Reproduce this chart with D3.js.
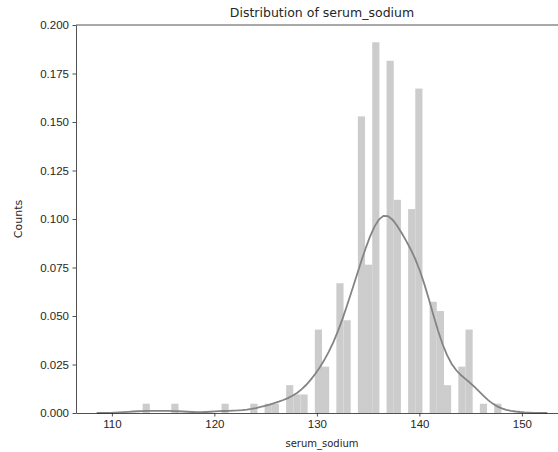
<!DOCTYPE html>
<html>
<head>
<meta charset="utf-8">
<script src="https://cdn.jsdelivr.net/npm/d3@7"></script>
<style>
  body { margin: 0; background: #fff; }
  svg { display: block; font-family: "DejaVu Sans", sans-serif; }
  .axis text { fill: #262626; font-size: 11.5px; }
  .axis path, .axis line { stroke: #262626; stroke-width: 0.8; }
</style>
</head>
<body>
<svg id="chart"></svg>
<script>
// serum_sodium values present in the data and how many rows have each one
const sodiumValues = [113, 116, 121, 124, 125, 126, 127, 128, 129, 130, 131, 132, 133, 134,
                      135, 136, 137, 138, 139, 140, 141, 142, 143, 144, 145, 146, 148];
const sodiumCounts = [1, 1, 1, 1, 1, 1, 3, 2, 2, 9, 5, 14, 10, 32,
                      16, 40, 38, 23, 22, 35, 12, 11, 3, 5, 9, 1, 1];
const xTicks = [110, 120, 130, 140, 150];
const yTicks = [0, 0.025, 0.05, 0.075, 0.1, 0.125, 0.15, 0.175, 0.2];
const xLimits = [106.5, 154.5];
const nBins = 50;

const width = 558, height = 452;
const margin = {top: 25, left: 76, bottom: 39};
const plotRight = 568; // right part of the figure falls outside the picture

const svg = d3.select('#chart')
    .attr('width', width)
    .attr('height', height);

// expand to rows
const rows = [];
sodiumValues.forEach((v, i) => { for (let k = 0; k < sodiumCounts[i]; k++) rows.push(v); });
const n = rows.length;

// histogram (density normalised, like distplot)
const lo = d3.min(rows), hi = d3.max(rows);
const binW = (hi - lo) / nBins;
const bars = sodiumValues.map((v, i) => {
  const k = Math.min(nBins - 1, Math.floor((v - lo) / binW + 1e-9));
  return {x0: lo + k * binW, x1: lo + (k + 1) * binW, density: sodiumCounts[i] / (n * binW)};
});

// gaussian kde, scott bandwidth, cut = 3
const sorted = rows.slice().sort(d3.ascending);
const iqr = (d3.quantileSorted(sorted, 0.75) - d3.quantileSorted(sorted, 0.25)) / 1.349;
const bw = 1.059 * Math.min(d3.deviation(rows), iqr) * Math.pow(n, -0.2);
const gridLo = lo - 3 * bw, gridHi = hi + 3 * bw;
const grid = d3.range(100).map(i => gridLo + i * (gridHi - gridLo) / 99);
const kde = grid.map(g => {
  let s = 0;
  for (const r of rows) { const u = (g - r) / bw; s += Math.exp(-0.5 * u * u); }
  return [g, s / (n * bw * Math.sqrt(2 * Math.PI))];
});

const xScale = d3.scaleLinear()
    .domain(xLimits)
    .range([margin.left, plotRight]);
const yScale = d3.scaleLinear()
    .domain([0, 0.2])
    .range([height - margin.bottom, margin.top]);

// bars
svg.append('g').selectAll('rect')
  .data(bars)
  .join('rect')
    .attr('x', d => xScale(d.x0))
    .attr('width', d => xScale(d.x1) - xScale(d.x0))
    .attr('y', d => yScale(d.density))
    .attr('height', d => yScale(0) - yScale(d.density))
    .attr('fill', '#cccccc');

// kde line
svg.append('path')
    .datum(kde)
    .attr('fill', 'none')
    .attr('stroke', '#848484')
    .attr('stroke-width', 1.8)
    .attr('d', d3.line().x(d => xScale(d[0])).y(d => yScale(d[1])));

// axes
svg.append('g')
    .attr('class', 'axis')
    .attr('transform', `translate(0,${yScale(0)})`)
    .call(d3.axisBottom(xScale).tickValues(xTicks).tickFormat(d3.format('d'))
      .tickSize(3.5).tickPadding(3.5).tickSizeOuter(0));

svg.append('g')
    .attr('class', 'axis')
    .attr('transform', `translate(${margin.left},0)`)
    .call(d3.axisLeft(yScale).tickValues(yTicks).tickFormat(d3.format('.3f'))
      .tickSize(3.5).tickPadding(3.5).tickSizeOuter(0));

// top spine
svg.append('line')
    .attr('x1', margin.left).attr('x2', plotRight)
    .attr('y1', yScale(0.2)).attr('y2', yScale(0.2))
    .attr('stroke', '#262626').attr('stroke-width', 0.8);

// title and labels
svg.append('text')
    .attr('x', (margin.left + plotRight) / 2)
    .attr('y', 17)
    .attr('text-anchor', 'middle')
    .style('font-size', '12.5px')
    .attr('fill', '#262626')
    .text('Distribution of serum_sodium');

svg.append('text')
    .attr('x', (margin.left + plotRight) / 2)
    .attr('y', 447)
    .attr('text-anchor', 'middle')
    .style('font-size', '10px')
    .attr('fill', '#262626')
    .text('serum_sodium');

svg.append('text')
    .attr('transform', `translate(22,${(yScale(0) + yScale(0.2)) / 2}) rotate(-90)`)
    .attr('text-anchor', 'middle')
    .style('font-size', '11px')
    .attr('fill', '#262626')
    .text('Counts');
</script>
</body>
</html>
